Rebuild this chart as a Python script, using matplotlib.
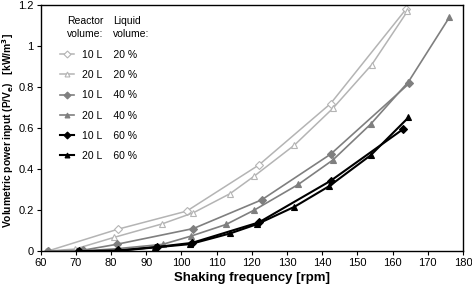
import numpy as np
import matplotlib
matplotlib.use("Agg")
from matplotlib import pyplot as plt

plt.rcParams["font.family"] = ["Liberation Sans", "DejaVu Sans"]

# shaking frequency [rpm] and volumetric power input [kW/m3] per series
rpm_10L_20 = [62, 82, 101.5, 122, 142.4, 163.8]
pv_10L_20 = [0.0, 0.107, 0.195, 0.42, 0.72, 1.18]

rpm_20L_20 = [61.5, 69.8, 80.9, 94.4, 103.4, 113.8, 120.7, 132.1, 143.0, 154.1, 164.2]
pv_20L_20 = [0.0, 0.01, 0.067, 0.132, 0.187, 0.28, 0.366, 0.517, 0.696, 0.91, 1.17]

rpm_10L_40 = [62, 72, 81.6, 103.4, 122.8, 142.4, 164.7]
pv_10L_40 = [0.0, 0.004, 0.033, 0.11, 0.25, 0.473, 0.818]

rpm_20L_40 = [62, 71.4, 82, 94.7, 102.7, 112.7, 120.7, 133.2, 143.0, 153.8, 164.5, 176.1]
pv_20L_40 = [0.0, 0.0, 0.012, 0.033, 0.073, 0.13, 0.2, 0.325, 0.444, 0.62, 0.826, 1.14]

rpm_10L_60 = [71, 82, 93, 103, 122, 142.4, 162.9]
pv_10L_60 = [0.0, 0.003, 0.02, 0.04, 0.14, 0.343, 0.594]

rpm_20L_60 = [70.3, 81.4, 92.5, 102.5, 113.8, 121.6, 132.1, 142.0, 153.8, 164.5]
pv_20L_60 = [0.0, 0.0, 0.018, 0.034, 0.086, 0.132, 0.216, 0.317, 0.468, 0.652]

reactor_labels = ["10 L", "20 L", "10 L", "20 L", "10 L", "20 L"]
liquid_labels = ["20 %", "20 %", "40 %", "40 %", "60 %", "60 %"]

x_ticks = list(range(60, 181, 10))
y_ticks = [0, 0.2, 0.4, 0.6, 0.8, 1.0, 1.2]
y_tick_labels = ["0", "0.2", "0.4", "0.6", "0.8", "1", "1.2"]

light = "#b4b4b4"
mid = "#7f7f7f"
dark = "#000000"

series = [
    (rpm_10L_20, pv_10L_20, light, "D", "white", 1.1, 4.2),
    (rpm_20L_20, pv_20L_20, light, "^", "white", 1.1, 5.0),
    (rpm_10L_40, pv_10L_40, mid, "D", mid, 1.2, 4.2),
    (rpm_20L_40, pv_20L_40, mid, "^", mid, 1.2, 5.0),
    (rpm_10L_60, pv_10L_60, dark, "D", dark, 1.5, 4.0),
    (rpm_20L_60, pv_20L_60, dark, "^", dark, 1.5, 5.0),
]

fig = plt.figure(figsize=(4.72, 2.85), dpi=100)
ax = fig.add_axes([0.086, 0.119, 0.895, 0.863])

handles = []
for x, y, col, mk, fc, lw, ms in series:
    ln, = ax.plot(x, y, color=col, lw=lw, marker=mk, markersize=ms,
                  markerfacecolor=fc, markeredgecolor=col, markeredgewidth=0.8)
    handles.append(ln)

ax.set_xlim(60, 180)
ax.set_ylim(0, 1.2)
ax.set_xticks(x_ticks)
ax.set_yticks(y_ticks)
ax.set_yticklabels(y_tick_labels)
ax.tick_params(labelsize=8, length=3, width=0.8, direction="out", pad=2)
for s in ax.spines.values():
    s.set_linewidth(1.0)

ax.set_xlabel("Shaking frequency [rpm]", fontsize=9.5, fontweight="bold", labelpad=3)
ax.set_ylabel("Volumetric power input (P/V$_\\mathbf{e}$)   [kW/m$^\\mathbf{3}$]",
              fontsize=7.4, fontweight="bold")
ax.yaxis.set_label_coords(-0.058, 0.49)

labels = [f"{r}    {l}" for r, l in zip(reactor_labels, liquid_labels)]
leg = ax.legend(handles, labels, loc="upper left", bbox_to_anchor=(0.035, 0.835),
                frameon=False, fontsize=7.5, handlelength=1.4, handletextpad=0.8,
                labelspacing=0.98, borderaxespad=0)
for h in leg.legend_handles:
    h.set_markersize(3.5)

ax.text(0.148, 0.955, "Reactor\nvolume:", transform=ax.transAxes, ha="right", va="top",
        multialignment="right", fontsize=7.5, linespacing=1.4)
ax.text(0.172, 0.955, "Liquid\nvolume:", transform=ax.transAxes, ha="left", va="top",
        multialignment="left", fontsize=7.5, linespacing=1.4)

fig.savefig("out.png", dpi=100)
